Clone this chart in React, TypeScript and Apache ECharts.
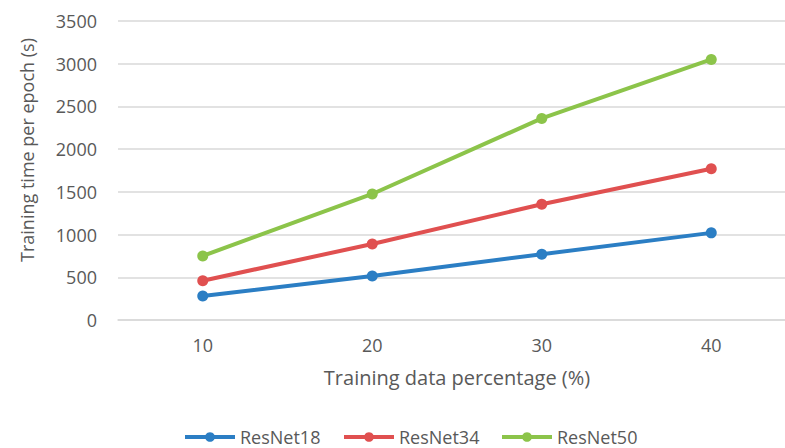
import React, { useEffect, useRef } from "react";
import * as echarts from "echarts";

const categories = ["10", "20", "30", "40"];
const resnet18 = [280, 515, 770, 1020];
const resnet34 = [460, 890, 1355, 1770];
const resnet50 = [750, 1475, 2360, 3050];
const seriesNames = ["ResNet18", "ResNet34", "ResNet50"];
const seriesColors = ["#2b7ec4", "#e05050", "#8cc44a"];
const legendLefts = [183, 342, 500];

const FONT = "'Open Sans', 'Noto Sans', sans-serif";
const TEXT_COLOR = "#595959";

// The plot area runs a little past the right edge of the visible frame,
// so the chart canvas is wider than its clipping container.
const VIEW_W = 785;
const VIEW_H = 448;
const CANVAS_W = 800;

export default function App() {
  const ref = useRef<HTMLDivElement>(null);

  useEffect(() => {
    if (!ref.current) return;
    const chart = echarts.init(ref.current, undefined, { renderer: "svg" });
    const data = [resnet18, resnet34, resnet50];
    chart.setOption({
      animation: false,
      backgroundColor: "#ffffff",
      textStyle: { fontFamily: FONT, color: TEXT_COLOR },
      grid: { left: 118, right: CANVAS_W - 796, top: 21, bottom: 128, containLabel: false },
      legend: seriesNames.map((name, i) => ({
        left: legendLefts[i],
        top: 428,
        padding: 0,
        itemWidth: 50,
        itemHeight: 12,
        lineStyle: { width: 4 },
        textStyle: { fontFamily: FONT, fontSize: 18, lineHeight: 18, color: TEXT_COLOR },
        data: [name],
      })),
      graphic: [
        {
          type: "text",
          x: 27,
          y: 150,
          rotation: Math.PI / 2,
          style: {
            text: "Training time per epoch (s)",
            fontFamily: FONT,
            fontSize: 18,
            fill: TEXT_COLOR,
            align: "center",
            verticalAlign: "middle",
          },
        },
      ],
      xAxis: {
        type: "category",
        data: categories,
        boundaryGap: true,
        name: "Training data percentage (%)",
        nameLocation: "middle",
        nameGap: 47,
        nameTextStyle: { fontFamily: FONT, fontSize: 20, color: TEXT_COLOR },
        axisLine: { show: true, lineStyle: { color: "#d9d9d9", width: 1.5 } },
        axisTick: { show: false },
        axisLabel: { fontFamily: FONT, fontSize: 18, color: TEXT_COLOR, margin: 16 },
      },
      yAxis: {
        type: "value",
        min: 0,
        max: 3500,
        interval: 500,
        axisLine: { show: false },
        axisTick: { show: false },
        axisLabel: {
          fontFamily: FONT,
          fontSize: 18,
          color: TEXT_COLOR,
          margin: 21,
          formatter: (v: number) => String(v),
        },
        splitLine: { lineStyle: { color: "#d9d9d9", width: 1.5 } },
      },
      series: data.map((values, i) => ({
        name: seriesNames[i],
        type: "line",
        data: values,
        symbol: "circle",
        symbolSize: 11,
        color: seriesColors[i],
        lineStyle: { width: 4, color: seriesColors[i] },
        itemStyle: { color: seriesColors[i] },
        z: 2 + i,
      })),
    });
    return () => chart.dispose();
  }, []);

  return (
    <div
      style={{
        position: "fixed",
        left: 0,
        top: 0,
        width: VIEW_W,
        height: VIEW_H,
        overflow: "hidden",
        background: "#fff",
      }}
    >
      <div ref={ref} style={{ width: CANVAS_W, height: VIEW_H }} />
    </div>
  );
}
